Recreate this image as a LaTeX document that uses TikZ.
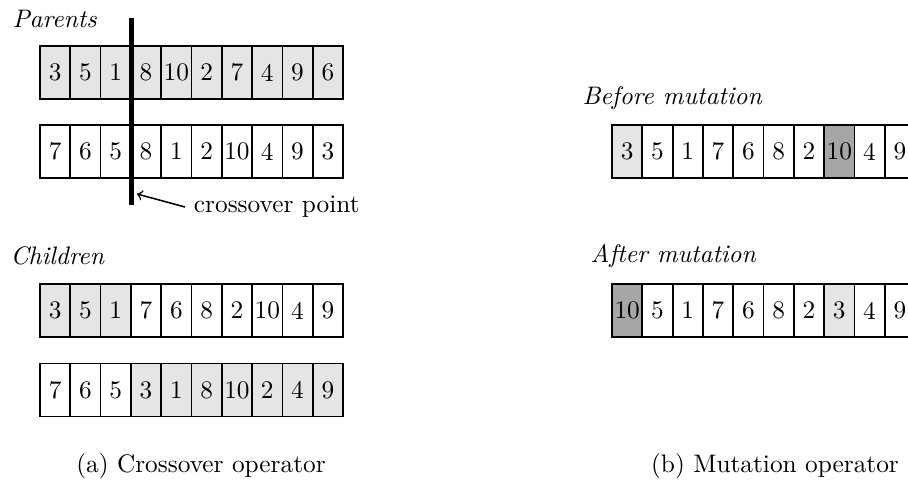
\documentclass[tikz,border=0pt]{standalone}
\usetikzlibrary{positioning}

\tikzset{
  cell/.style={draw,line width=.7pt,minimum width=11.97pt,minimum height=20.9pt,
    inner sep=0pt,anchor=center},
  lite/.style={fill=black!10},
  dark/.style={fill=black!35},
  nofill/.style={},
  lbl/.style={anchor=base west,inner sep=0pt,font=\itshape},
}

\begin{document}
\begin{tikzpicture}[x=0.395pt,y=-0.395pt]
      \useasboundingbox (0,0) rectangle (908,486);
      \clip (0,0) rectangle (908,486);

      %%%%%%%%%%%%%%%%%%%%%%%%%%%%%%%%%%%%%%%%%%%%%%%%%%%%%%%%%%%%%%%%%%%%%%%%%%%
      %%%%  Crossover
      \node[lbl] (parents) at (12,28) {Parents};
      \foreach \v/\f [count=\i] in {3/lite,5/lite,1/lite,8/lite,10/lite,2/lite,7/lite,4/lite,9/lite,6/lite}
       {\node[cell,\f] (pa-\i) at ({40+30.3*(\i-0.5)},72.5) {\v};}
      \foreach \v/\f [count=\i] in {7/nofill,6/nofill,5/nofill,8/nofill,1/nofill,2/nofill,10/nofill,4/nofill,9/nofill,3/nofill}
       {\node[cell,\f] (pb-\i) at ({40+30.3*(\i-0.5)},151.5) {\v};}

      % cut between the third and fourth gene
      \coordinate (cut top) at (131.5,18);
      \coordinate (cut bot) at (131.5,205);
      \coordinate (cut tip) at (137,194);
      \draw[ultra thick] (cut top) -- (cut bot);
      \node[right] (cpoint) at (185,207) {crossover point};
      \draw[->,semithick] (cpoint.west) -- (cut tip);

      \node[lbl] (children) at (10,265) {Children};
      \foreach \v/\f [count=\i] in {3/lite,5/lite,1/lite,7/nofill,6/nofill,8/nofill,2/nofill,10/nofill,4/nofill,9/nofill}
       {\node[cell,\f] (ca-\i) at ({40+30.3*(\i-0.5)},310.5) {\v};}
      \foreach \v/\f [count=\i] in {7/nofill,6/nofill,5/nofill,3/lite,1/lite,8/lite,10/lite,2/lite,4/lite,9/lite}
       {\node[cell,\f] (cb-\i) at ({40+30.3*(\i-0.5)},390) {\v};}

      \node[anchor=base,inner sep=0pt] (capa) at (201,473) {(a) Crossover operator};

      %%%%%%%%%%%%%%%%%%%%%%%%%%%%%%%%%%%%%%%%%%%%%%%%%%%%%%%%%%%%%%%%%%%%%%%%%%%
      %%%%  Mutation
      \node[lbl] (before) at (582,105) {Before mutation};
      \foreach \v/\f [count=\i] in {3/lite,5/nofill,1/nofill,7/nofill,6/nofill,8/nofill,2/nofill,10/dark,4/nofill,9/nofill}
       {\node[cell,\f] (ma-\i) at ({612+30.3*(\i-0.5)},151.5) {\v};}

      \node[lbl] (after) at (590,263) {After mutation};
      \foreach \v/\f [count=\i] in {10/dark,5/nofill,1/nofill,7/nofill,6/nofill,8/nofill,2/nofill,3/lite,4/nofill,9/nofill}
       {\node[cell,\f] (mb-\i) at ({612+30.3*(\i-0.5)},310.5) {\v};}

      \node[anchor=base,inner sep=0pt] (capb) at (775,473) {(b) Mutation operator};
    \end{tikzpicture}
\end{document}
